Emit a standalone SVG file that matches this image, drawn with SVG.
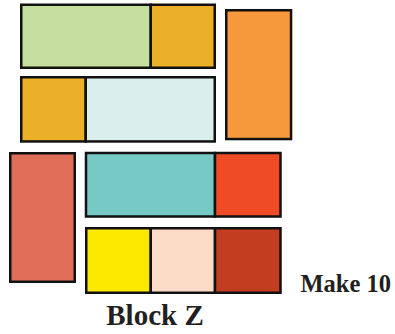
<svg xmlns="http://www.w3.org/2000/svg" width="395" height="334" viewBox="0 0 395 334">
<style>
.c{stroke:#111;stroke-width:2.5}
.t{font-family:"Liberation Serif",serif;font-weight:bold;fill:#231f20}
</style>
<rect width="395" height="334" fill="#fff"/>
<g id="bar1">
<rect class="c" x="21.25" y="4.75" width="129.5" height="63" fill="#c5df9f"/>
<rect class="c" x="150.75" y="4.75" width="64" height="63" fill="#ebb027"/>
</g>
<g id="bar2">
<rect class="c" x="21.25" y="77.25" width="64.5" height="64.2" fill="#ebb027"/>
<rect class="c" x="85.75" y="77.25" width="129" height="64.2" fill="#daeeeb"/>
</g>
<g id="bar-orange">
<rect class="c" x="226.25" y="10.25" width="64.8" height="128.8" fill="#f6993d"/>
</g>
<g id="bar3">
<rect class="c" x="86" y="153" width="129" height="63.5" fill="#76c9c4"/>
<rect class="c" x="215" y="153" width="65.5" height="63.5" fill="#ef4b26"/>
</g>
<g id="bar-salmon">
<rect class="c" x="10.25" y="153.25" width="64.5" height="128.5" fill="#e06d57"/>
</g>
<g id="bar4">
<rect class="c" x="86.25" y="228.25" width="64.5" height="64.5" fill="#fde800"/>
<rect class="c" x="150.75" y="228.25" width="64.25" height="64.5" fill="#fcdbc7"/>
<rect class="c" x="215" y="228.25" width="65.5" height="64.5" fill="#c33e20"/>
</g>
<g id="labels">
<text class="t" x="155" y="325" font-size="29" text-anchor="middle">Block Z</text>
<text class="t" x="300.5" y="291.7" font-size="24.5">Make 10</text>
</g>
</svg>
